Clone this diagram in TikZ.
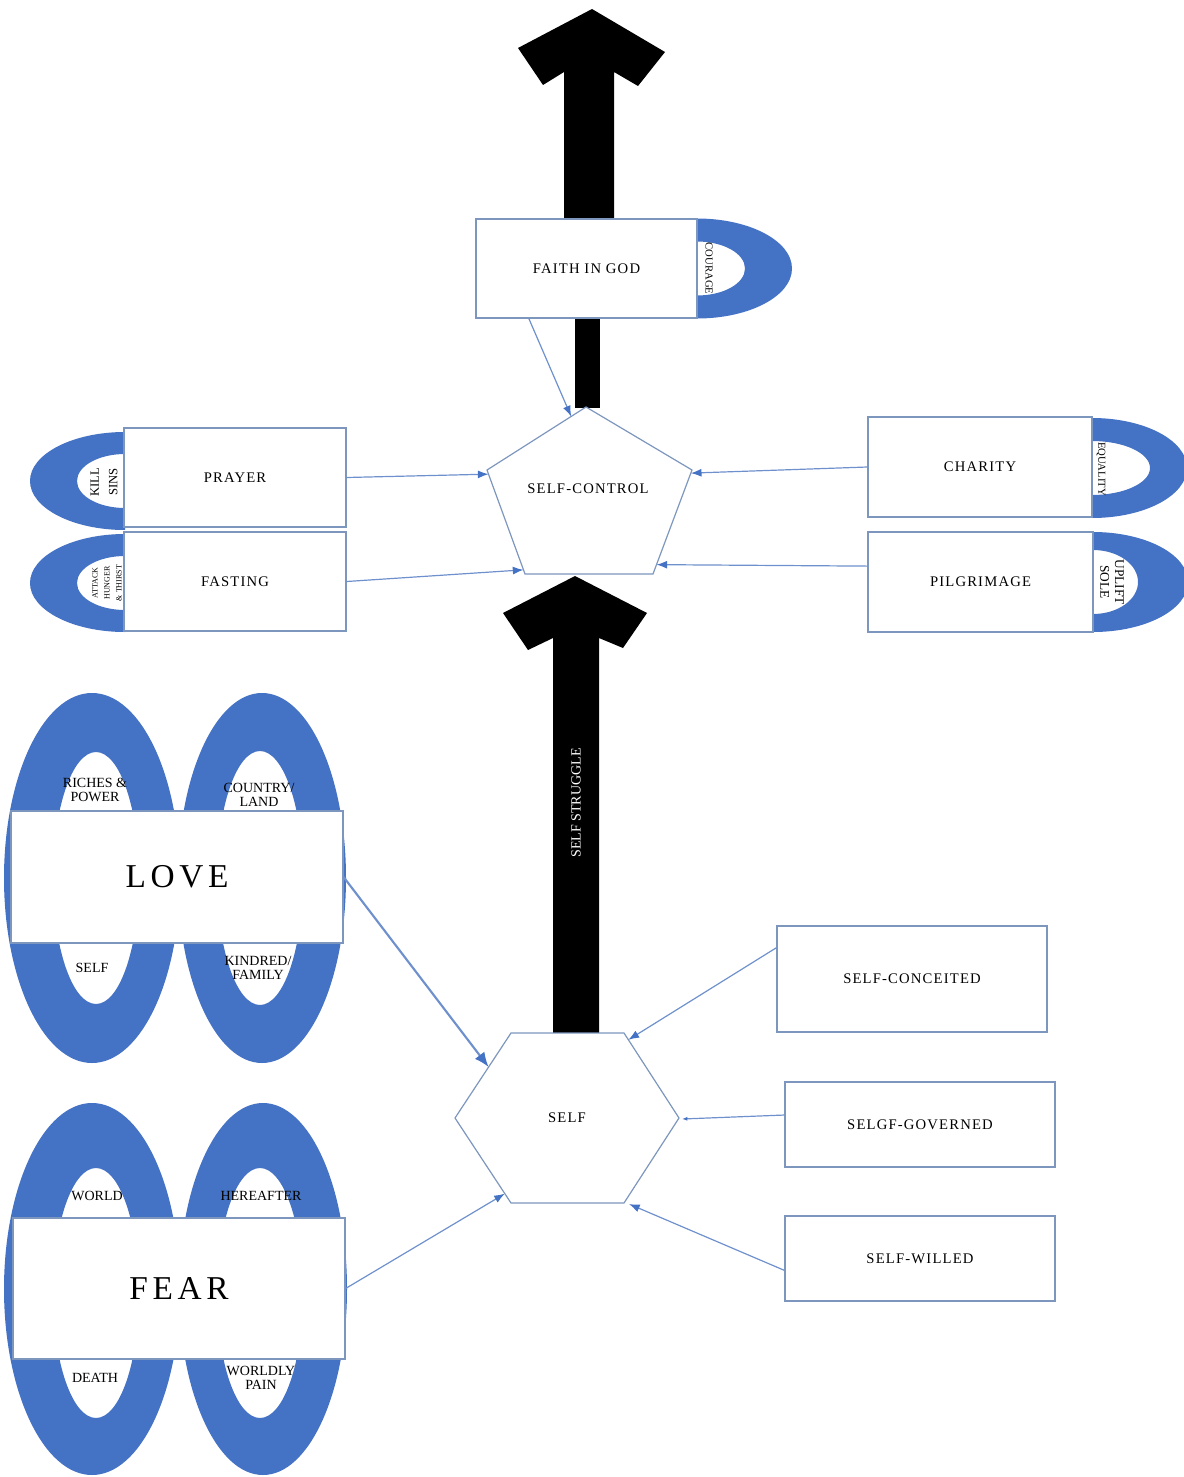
\documentclass[tikz,border=0pt]{standalone}
\usepackage{fontspec}
\setmainfont{Liberation Serif}
\newfontfamily\lblfont[LetterSpace=8]{Liberation Serif}
\newfontfamily\bigfont[LetterSpace=14]{Liberation Serif}
\usetikzlibrary{arrows.meta,calc}

\definecolor{ringblue}{RGB}{68,114,196}
\definecolor{boxline}{RGB}{125,150,190}
\definecolor{linkblue}{RGB}{110,145,205}

\tikzset{
  box/.style={draw=boxline, fill=white, line width=0.9pt, inner sep=0pt, font=\lblfont\fontsize{11}{13}\selectfont},
  boxsize/.style 2 args={minimum width=#1*0.75pt, minimum height=#2*0.75pt},
  ring/.style={fill=ringblue},
  link/.style={draw=linkblue, line width=0.9pt, -{Latex[length=8pt,width=6pt,color=ringblue]}},
  hole/.style={font=\fontsize{10.5}{11}\selectfont, align=center, inner sep=0pt},
  tag/.style={align=center, inner sep=0pt},
}

\begin{document}
\begin{tikzpicture}[x=0.75pt,y=-0.75pt]

\useasboundingbox (0,0) rectangle (1184,1477);
\clip (0,0) rectangle (1184,1477);

% half rings
\fill[ring] (697,218.5) arc[start angle=-90,end angle=90,x radius=95,y radius=50] -- (697,295.5) arc[start angle=90,end angle=-90,x radius=48,y radius=27] -- cycle;
\fill[ring] (125,432) arc[start angle=-90,end angle=-270,x radius=95,y radius=49] -- (125,508) arc[start angle=90,end angle=270,x radius=48,y radius=27] -- cycle;
\fill[ring] (125,534) arc[start angle=-90,end angle=-270,x radius=95,y radius=49] -- (125,610) arc[start angle=90,end angle=270,x radius=48,y radius=27] -- cycle;
\fill[ring] (1092,418) arc[start angle=-90,end angle=90,x radius=95,y radius=50] -- (1092,495) arc[start angle=90,end angle=-90,x radius=58,y radius=27] -- cycle;
\fill[ring] (1093,532) arc[start angle=-90,end angle=90,x radius=95,y radius=50] -- (1093,614) arc[start angle=90,end angle=-90,x radius=45,y radius=32] -- cycle;

% full rings
\fill[ring, even odd rule] (92,878) ellipse[x radius=88,y radius=185] (96,878) ellipse[x radius=43,y radius=126];
\fill[ring, even odd rule] (262,878) ellipse[x radius=84,y radius=185] (260,878) ellipse[x radius=43,y radius=127];
\fill[ring, even odd rule] (92,1289) ellipse[x radius=88,y radius=186] (96,1293) ellipse[x radius=43,y radius=125];
\fill[ring, even odd rule] (263,1289) ellipse[x radius=84,y radius=186] (260,1293) ellipse[x radius=43,y radius=125];

% block arrows
\fill (564,218) -- (564,72) -- (543,85) -- (518,48) -- (592,9) -- (665,52) -- (638,86) -- (614,72) -- (614,218) -- cycle;
\fill (575,318) rectangle (600,408);
\fill (553,1033) -- (553,638) -- (528,650) -- (503,613) -- (575,576) -- (647,613) -- (623,648) -- (599,638) -- (599,1033) -- cycle;
\node[rotate=90, text=white, font=\fontsize{10.5}{12}\selectfont] (struggle) at (576,803) {SELF STRUGGLE};

% boxes
\node[box, boxsize={221}{99}] (faith) at (586.5,268.5) {FAITH IN GOD};
\node[box, boxsize={222}{99}] (prayer) at (235,477.5) {PRAYER};
\node[box, boxsize={222}{99}] (fasting) at (235,581.5) {FASTING};
\node[box, boxsize={224}{100}] (charity) at (980,467) {CHARITY};
\node[box, boxsize={225}{100}] (pilg) at (980.5,582) {PILGRIMAGE};
\node[box, boxsize={332}{132}, font=\bigfont\fontsize{25}{30}\selectfont] (love) at (177,877) {LOVE};
\node[box, boxsize={332}{141}, font=\bigfont\fontsize{25}{30}\selectfont] (fear) at (179,1288.5) {FEAR};
\node[box, boxsize={270}{106}] (conceit) at (912,979) {SELF-CONCEITED};
\node[box, boxsize={270}{85}] (governed) at (920,1124.5) {SELGF-GOVERNED};
\node[box, boxsize={270}{85}] (willed) at (920,1258.5) {SELF-WILLED};

% pentagon and hexagon
\coordinate (ct) at (586,407);
\coordinate (cr) at (692,470);
\coordinate (cbr) at (653,574);
\coordinate (cbl) at (525,574);
\coordinate (cl) at (487,470);
\draw[boxline, line width=0.9pt, fill=white] (ct) -- (cr) -- (cbr) -- (cbl) -- (cl) -- cycle;
\node[font=\lblfont\fontsize{11}{13}\selectfont] (ctrl) at (588,489) {SELF-CONTROL};

\coordinate (stl) at (511,1033);
\coordinate (str) at (624,1033);
\coordinate (sr) at (679,1118);
\coordinate (sbr) at (624,1203);
\coordinate (sbl) at (511,1203);
\coordinate (sl) at (455,1118);
\draw[boxline, line width=0.9pt, fill=white] (stl) -- (str) -- (sr) -- (sbr) -- (sbl) -- (sl) -- cycle;
\node[font=\lblfont\fontsize{11}{13}\selectfont] (self) at (567,1118) {SELF};

% ring labels
\node[tag, rotate=-90, font=\fontsize{8}{9}\selectfont] (courage) at (709,268.5) {COURAGE};
\node[tag, rotate=90, font=\fontsize{9.5}{14}\selectfont] (killsins) at (104,482) {KILL\\SINS};
\node[tag, rotate=90, font=\fontsize{6}{9}\selectfont] (attack) at (107,583) {ATTACK\\HUNGER\\\& THIRST};
\node[tag, rotate=-90, font=\fontsize{8}{9}\selectfont] (equality) at (1101,469) {EQUALITY};
\node[tag, rotate=-90, font=\fontsize{10}{11}\selectfont] (uplift) at (1112,582) {UPLIFT\\SOLE};

\node[hole] (riches) at (95,790) {RICHES \&\\POWER};
\node[hole] (country) at (259,795) {COUNTRY/\\LAND};
\node[hole] (selfl) at (92,968) {SELF};
\node[hole] (kindred) at (258,968) {KINDRED/\\FAMILY};
\node[hole] (world) at (97,1196) {WORLD};
\node[hole] (hereafter) at (261,1196) {HEREAFTER};
\node[hole] (death) at (95,1378) {DEATH};
\node[hole] (worldly) at (261,1378) {WORLDLY\\PAIN};

% connectors
\draw[link] (faith.221) -- ($(ct)!0.15!(cl)$);
\draw[link] (prayer.east) -- ($(cl)!0.04!(cbl)$);
\draw[link] (fasting.east) -- ($(cbl)!0.04!(cl)$);
\draw[link] (charity.west) -- ($(cr)!0.03!(cbr)$);
\draw[link] (pilg.172) -- ($(cbr)!0.09!(cr)$);

\draw[link, line width=1.6pt, -{Latex[length=11pt,width=9pt,color=ringblue]}] (love.east) -- ($(stl)!0.4!(sl)$);
\draw[link] (fear.east) -- ($(sbl)!0.11!(sl)$);
\draw[link] (conceit.167) -- ($(str)!0.08!(sr)$);
\draw[link, -{Latex[length=4pt,width=3pt,color=ringblue]}] (governed.176) -- ($(sr)+(3,1)$);
\draw[link] (willed.185) -- ($(sbr)+(5,1)$);

\end{tikzpicture}
\end{document}
